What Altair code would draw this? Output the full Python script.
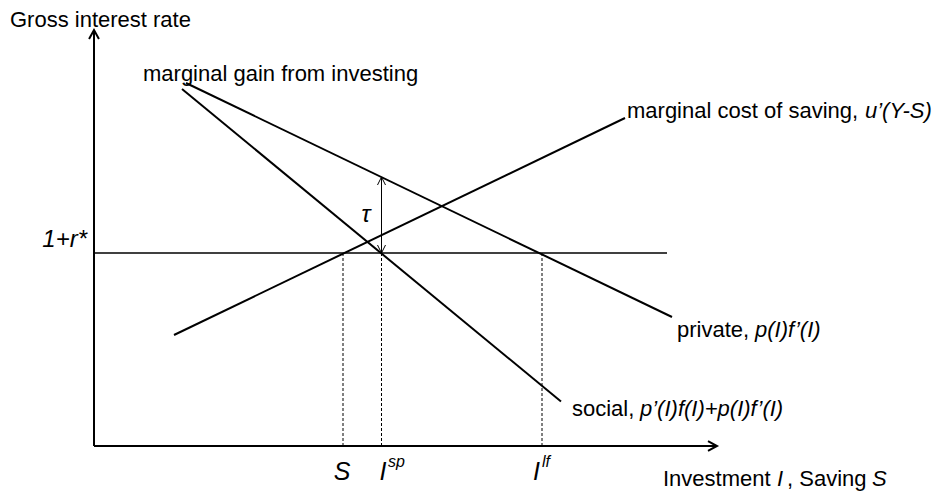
import altair as alt
import pandas as pd

# ---- curve endpoints (investment / saving units, interest-rate units) ----
curve_names = ["private", "social", "saving"]
curve_x0 = [18.4, 17.6, 16.0]
curve_y0 = [72.6, 71.4, 22.2]
curve_x1 = [115.6, 93.4, 106.2]
curve_y1 = [25.8, 8.9, 65.6]

rate_level = 38.6          # 1+r*
rate_x_end = 114.6

marker_names = ["S", "Isp", "Ilf"]
marker_x = [49.8, 57.5, 89.6]

tau_x = 57.5
tau_top = 53.8             # private curve at I^sp

axis_x_end = 124.6
axis_y_end = 83.2

X_DOMAIN = [-17.2, 168.0]
Y_DOMAIN = [-9.0, 87.6]
FONT = "Liberation Sans"

xs = alt.Scale(domain=X_DOMAIN, nice=False, zero=False)
ys = alt.Scale(domain=Y_DOMAIN, nice=False, zero=False)


def seg_enc():
    return dict(
        x=alt.X("x:Q", scale=xs, axis=None),
        y=alt.Y("y:Q", scale=ys, axis=None),
        x2="x2:Q",
        y2="y2:Q",
    )


curves = pd.DataFrame({"name": curve_names, "x": curve_x0, "y": curve_y0,
                       "x2": curve_x1, "y2": curve_y1})
axes = pd.DataFrame({"x": [0, 0], "y": [0, 0], "x2": [0, axis_x_end], "y2": [axis_y_end, 0]})
rate = pd.DataFrame({"x": [0], "y": [rate_level], "x2": [rate_x_end], "y2": [rate_level]})
drops = pd.DataFrame({"name": marker_names, "x": marker_x, "y": [0] * 3,
                      "x2": marker_x, "y2": [rate_level] * 3})
tau = pd.DataFrame({"x": [tau_x], "y": [rate_level], "x2": [tau_x], "y2": [tau_top]})

layers = []
layers.append(alt.Chart(curves).mark_rule(color="black", strokeWidth=2).encode(**seg_enc()))
layers.append(alt.Chart(axes).mark_rule(color="black", strokeWidth=2).encode(**seg_enc()))
layers.append(alt.Chart(rate).mark_rule(color="black", strokeWidth=1.4).encode(**seg_enc()))
layers.append(alt.Chart(drops).mark_rule(color="black", strokeWidth=1, strokeDash=[3, 2]).encode(**seg_enc()))
layers.append(alt.Chart(tau).mark_rule(color="black", strokeWidth=1).encode(**seg_enc()))

# arrowheads
heads = [
    (pd.DataFrame({"x": [0], "y": [axis_y_end]}), "M-0.55,1L0,0L0.55,1", 324, 2),
    (pd.DataFrame({"x": [axis_x_end], "y": [0]}), "M-1,-0.55L0,0L-1,0.55", 324, 2),
    (pd.DataFrame({"x": [tau_x], "y": [tau_top]}), "M-0.5,1L0,0L0.5,1", 256, 1),
    (pd.DataFrame({"x": [tau_x], "y": [rate_level]}), "M-0.5,-1L0,0L0.5,-1", 256, 1),
]
for df, shape, size, sw in heads:
    layers.append(
        alt.Chart(df).mark_point(shape=shape, size=size, filled=False, color="black",
                                 strokeWidth=sw, opacity=1)
        .encode(x=alt.X("x:Q", scale=xs, axis=None), y=alt.Y("y:Q", scale=ys, axis=None))
    )

# ---- text annotations ----
reg_text = ["Gross interest rate", "marginal gain from investing", "marginal cost of saving,",
            "private,", "social,", "Investment", ", Saving"]
reg_x = [-16.8, 9.8, 106.6, 116.6, 95.6, 113.8, 138.6]
reg_y = [83.9, 73.0, 65.6, 21.8, 6.0, -8.0, -8.0]

ital_text = ["u’(Y-S)", "p(I)f’(I)", "p’(I)f(I)+p(I)f’(I)", "I", "S"]
ital_x = [154.2, 132.2, 109.2, 136.6, 155.6]
ital_y = [65.6, 21.8, 6.0, -8.0, -8.0]

tick_text = ["S", "I", "I"]
tick_x = [49.6, 57.1, 87.8]
tick_y = [-6.8, -6.8, -6.8]

sup_text = ["sp", "lf"]
sup_x = [58.8, 89.6]
sup_y = [-4.2, -4.2]


def text_layer(texts, x, y, size, style, align):
    df = pd.DataFrame({"t": texts, "x": x, "y": y})
    return alt.Chart(df).mark_text(font=FONT, fontSize=size, fontStyle=style, align=align,
                                   baseline="alphabetic", color="black").encode(
        x=alt.X("x:Q", scale=xs, axis=None), y=alt.Y("y:Q", scale=ys, axis=None), text="t:N")


layers.append(text_layer(reg_text, reg_x, reg_y, 22, "normal", "left"))
layers.append(text_layer(ital_text, ital_x, ital_y, 22, "italic", "left"))
layers.append(text_layer(["τ"], [54.4], [44.8], 24, "italic", "center"))
layers.append(text_layer(["1+r*"], [-1.4], [39.8], 24, "italic", "right"))
layers.append(text_layer(tick_text[:1], tick_x[:1], tick_y[:1], 25, "italic", "center"))
layers.append(text_layer(tick_text[1:], tick_x[1:], tick_y[1:], 25, "italic", "left"))
layers.append(text_layer(sup_text, sup_x, sup_y, 16, "italic", "left"))

chart = alt.layer(*layers).properties(
    width=926, height=483, padding=0,
    autosize=alt.AutoSizeParams(type="none"),
).configure_view(stroke=None)

chart.save("out.html", embed_options={"renderer": "svg", "actions": False})
